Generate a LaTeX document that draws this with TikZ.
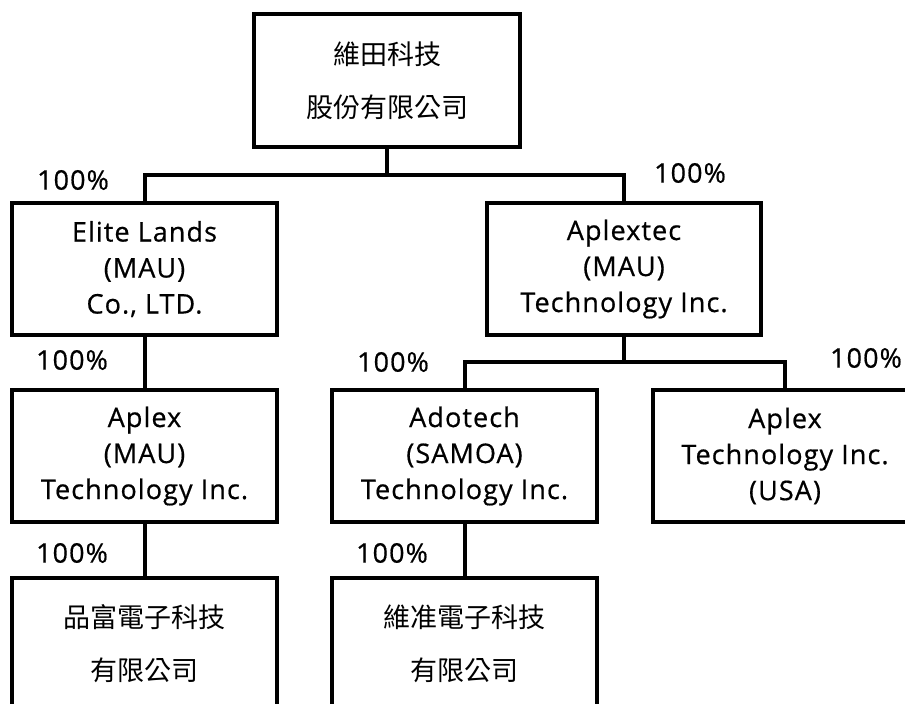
\documentclass[tikz,border=0pt]{standalone}
\usepackage{fontspec}
\setmainfont[LetterSpace=4,FakeBold=0.6]{Open Sans}
\newfontfamily\cjk{Noto Sans CJK TC}
\tikzset{
  unit/.style={draw,line width=4pt,minimum width=265pt,minimum height=132pt,
    align=center,inner sep=0pt,font=\fontsize{27}{36}\selectfont},
  cunit/.style={unit,font=\cjk\fontsize{27}{53}\selectfont},
  share/.style={font=\fontsize{27}{28}\selectfont,inner sep=0pt},
  link/.style={line width=4pt}
}
\begin{document}
\begin{tikzpicture}[x=1pt,y=-1pt]
  \useasboundingbox (0,0) rectangle (905,704);
  \clip (0,0) rectangle (905,704);
  % companies
  \node[cunit,minimum width=266pt,minimum height=133pt] (weitien) at (387,80.5) {維田科技\\股份有限公司};
  \node[unit] (elite) at (144.5,269) {Elite Lands\\(MAU)\\Co., LTD.};
  \node[unit,minimum width=274pt] (aplextec) at (624,269) {Aplextec\\(MAU)\\Technology Inc.};
  \node[unit] (aplexmau) at (144.5,456) {Aplex\\(MAU)\\Technology Inc.};
  \node[unit] (adotech) at (464.5,456) {Adotech\\(SAMOA)\\Technology Inc.};
  \node[unit] (aplexusa) at (785,456) {Aplex\\Technology Inc.\\(USA)};
  \node[cunit] (pinfu) at (144.5,644) {品富電子科技\\有限公司};
  \node[cunit] (weizhun) at (464.5,644) {維准電子科技\\有限公司};
  % buses
  \coordinate (bus1) at (387,175);
  \coordinate (bus2) at (624,362);
  \draw[link] (weitien) -- (bus1);
  \draw[link] (elite.north) |- (bus1) -| (aplextec.north);
  \draw[link] (aplextec) -- (bus2);
  \draw[link] (adotech.north) |- (bus2) -| (aplexusa.north);
  \draw[link] (elite) -- (aplexmau);
  \draw[link] (aplexmau) -- (pinfu);
  \draw[link] (adotech) -- (weizhun);
  % shares
  \node[share] (s1) at (73,180) {100\%};
  \node[share] (s2) at (690,173) {100\%};
  \node[share] (s3) at (72,360) {100\%};
  \node[share] (s4) at (393,362) {100\%};
  \node[share] (s5) at (866,358) {100\%};
  \node[share] (s6) at (72,553) {100\%};
  \node[share] (s7) at (392,553) {100\%};
\end{tikzpicture}
\end{document}
